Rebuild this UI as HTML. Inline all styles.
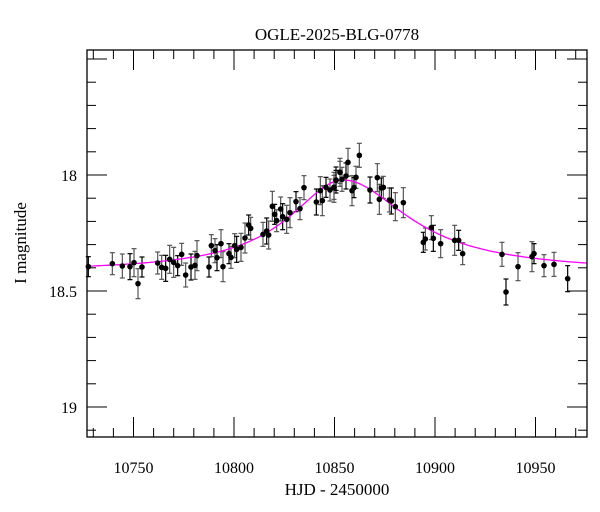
<!DOCTYPE html>
<html><head><meta charset="utf-8"><style>
body{margin:0;background:#fff;}
svg{display:block;font-family:"Liberation Serif",serif;}
</style></head><body>
<svg id="s" width="600" height="512" xmlns="http://www.w3.org/2000/svg">
<rect width="600" height="512" fill="#fff"/>
<text x="337" y="40" font-size="17" text-anchor="middle">OGLE-2025-BLG-0778</text>
<text x="337" y="495" font-size="17" text-anchor="middle">HJD - 2450000</text>
<text transform="translate(26,243) rotate(-90)" font-size="17" text-anchor="middle">I magnitude</text>
<g id="ax" stroke="#000" stroke-width="1"></g>
<g id="eb" stroke-width="1.2"></g>
<path id="model" fill="none" stroke="#f0f" stroke-width="1.3"/>
<g id="pts" fill="#000"></g>
<rect x="87" y="50" width="500" height="387" fill="none" stroke="#000" stroke-width="1.3"/>
</svg>
<script>
var NS="http://www.w3.org/2000/svg";
function el(t,a,p){var e=document.createElementNS(NS,t);for(var k in a)e.setAttribute(k,a[k]);document.getElementById(p).appendChild(e);return e;}
var L=87,R=587,T=50,B=437;
function X(t){return 133.5+(t-10750)*100.5/50;}
function Y(m){return 175+(m-18)*232;}
for(var t=10730;t<=10970;t+=10){var x=X(t);var maj=(t%50==0);var len=maj?20:9;
 el('line',{x1:x,y1:B,x2:x,y2:B-len},'ax');el('line',{x1:x,y1:T,x2:x,y2:T+len},'ax');
 if(maj){var tx=el('text',{x:x,y:B+36,'font-size':16,'text-anchor':'middle',stroke:'none'},'ax');tx.textContent=t;}}
for(var i=-5;i<=11;i++){var m=18+i*0.1;var y=Y(m);if(y<T||y>B)continue;var maj=(i%5==0);var len=maj?20:9;
 el('line',{x1:L,y1:y,x2:L+len,y2:y},'ax');el('line',{x1:R,y1:y,x2:R-len,y2:y},'ax');
 if(maj&&i>=0){var tx=el('text',{x:L-10,y:y+6,'font-size':16,'text-anchor':'end',stroke:'none'},'ax');tx.textContent=(i==0?'18':i==5?'18.5':'19');}}
var p1=[[25,410],[97,401],[127,408],[150,410],[162,398],[174,461],[186,411],[233,399],[245,412],[257,415],[269,388],[281,397],[293,407],[305,373],[317,435],[333,411],[345,406],[351,377],[387,411],[394,347],[405,362],[411,383],[423,341],[429,410],[447,371],[453,382],[464,347],[470,358],[483,352],[495,324],[506,285],[512,295],[549,313],[560,303],[566,315],[577,229],[584,253],[590,272],[602,237],[608,260],[620,268],[630,248],[648,215],[660,236],[672,173],[709,216],[721,182],[727,212],[738,172],[750,180],[762,172],[768,150],[780,127]];
var p2=[[12,172],[18,151],[30,127],[36,148],[48,138],[54,97],[66,182],[72,173],[78,142],[88,76],[120,180],[142,143],[148,208],[154,174],[160,172],[178,210],[184,213],[196,230],[220,218],[280,337],[286,327],[304,293],[310,325],[332,341],[374,331],[386,331],[398,371],[516,373],[528,486],[564,410],[606,380],[612,371],[642,407],[672,403],[713,446]];
var P=[];p1.forEach(function(p){P.push([80+p[0]/3,130+p[1]/3]);});p2.forEach(function(p){P.push([330+p[0]/3,130+p[1]/3]);});
P.forEach(function(p,i){var h=10+((i*7)%6);var c=(i%3==0)?'#000':'#555';
 el('line',{x1:p[0],y1:p[1]-h,x2:p[0],y2:p[1]+h,stroke:c},'eb');
 el('line',{x1:p[0]-2.5,y1:p[1]-h,x2:p[0]+2.5,y2:p[1]-h,stroke:c},'eb');
 el('line',{x1:p[0]-2.5,y1:p[1]+h,x2:p[0]+2.5,y2:p[1]+h,stroke:c},'eb');
 el('circle',{cx:p[0],cy:p[1],r:2.8},'pts');});
var d='';for(var x=L;x<=R;x+=2){var w=(x<343)?66:80;var u=(x-343)/w;var y=272-92/(1+u*u);d+=(x==L?'M':'L')+x+','+y.toFixed(1);}
document.getElementById('model').setAttribute('d',d);
</script>
</body></html>
